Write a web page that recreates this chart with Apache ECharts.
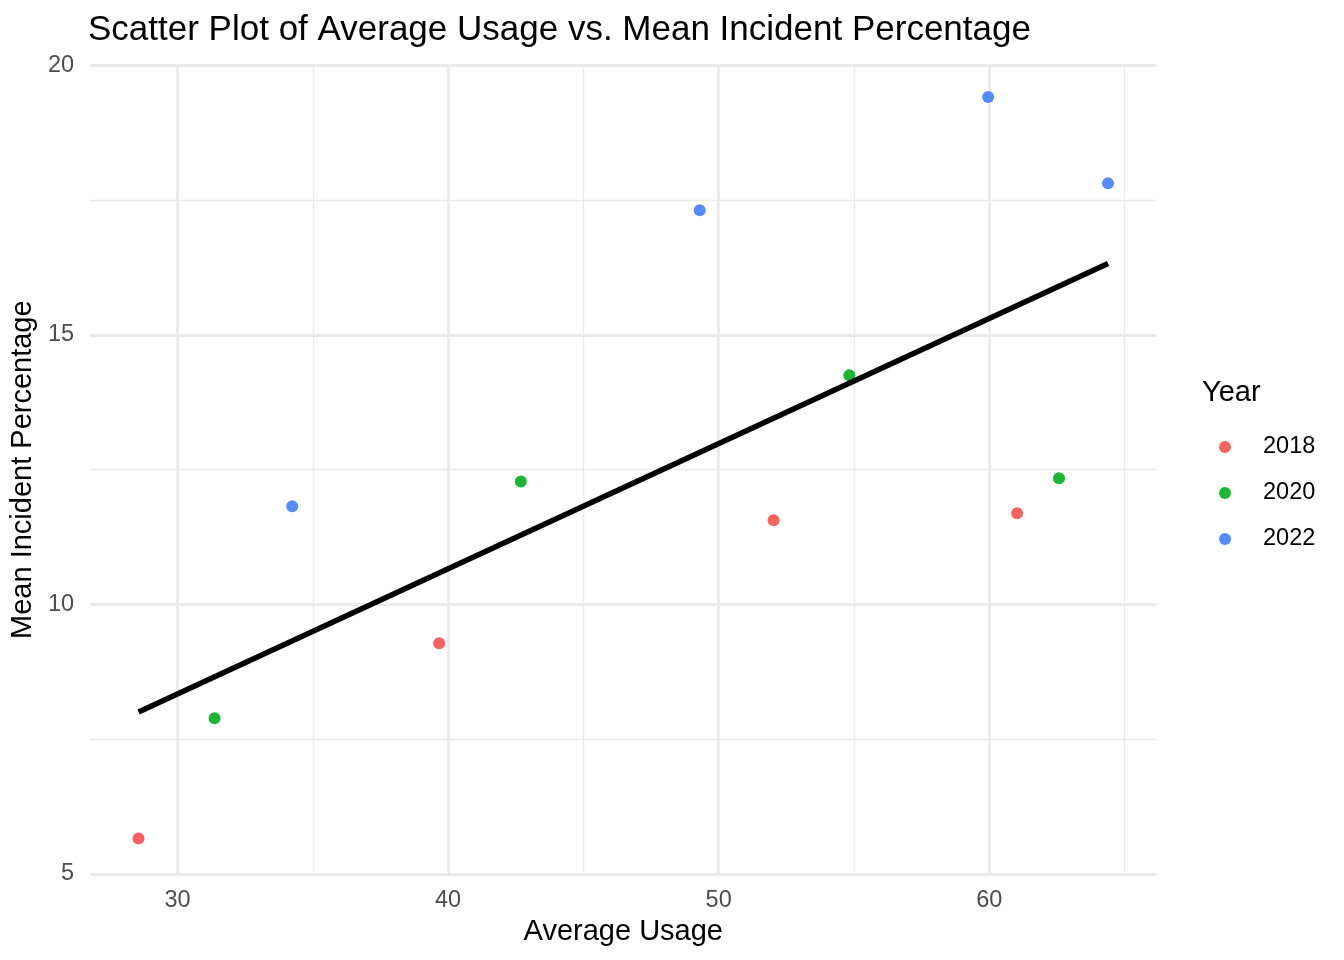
<!DOCTYPE html>
<html><head><meta charset="utf-8">
<script src="https://cdn.jsdelivr.net/npm/echarts@6/dist/echarts.min.js"></script>
<style>html,body{margin:0;padding:0;background:#fff}#chart{width:1344px;height:960px}</style>
</head><body><div id="chart"></div>
<script>
const years = ['2018', '2020', '2022'];
const yearColors = ['#F5645E', '#1CB536', '#568BFF'];
const usage2018 = [28.56, 39.67, 52.03, 61.03];
const incident2018 = [5.66, 9.28, 11.56, 11.69];
const usage2020 = [31.37, 42.69, 54.83, 62.58];
const incident2020 = [7.89, 12.28, 14.25, 12.34];
const usage2022 = [34.24, 49.30, 59.96, 64.39];
const incident2022 = [11.82, 17.31, 19.41, 17.81];
const xMajorTicks = [30, 40, 50, 60];
const xMinorTicks = [35, 45, 55, 65];
const yTicks = [5, 10, 15, 20];

const usageByYear = [usage2018, usage2020, usage2022];
const incidentByYear = [incident2018, incident2020, incident2022];

const allX = [].concat(usage2018, usage2020, usage2022);
const allY = [].concat(incident2018, incident2020, incident2022);
const n = allX.length;
const mx = allX.reduce((a, b) => a + b, 0) / n;
const my = allY.reduce((a, b) => a + b, 0) / n;
let sxy = 0, sxx = 0;
for (let i = 0; i < n; i++) { sxy += (allX[i] - mx) * (allY[i] - my); sxx += (allX[i] - mx) ** 2; }
const slope = sxy / sxx;
const intercept = my - slope * mx;
const xmin = Math.min(...allX), xmax = Math.max(...allX);
const fitLine = [[xmin, intercept + slope * xmin], [xmax, intercept + slope * xmax]];
const xPad = (xmax - xmin) * 0.05;

const FONT = "'Liberation Sans', Arial, Helvetica, sans-serif";
const chart = echarts.init(document.getElementById('chart'), null, { renderer: 'canvas' });

const pointSeries = years.map((yr, k) => ({
  name: yr,
  type: 'scatter',
  z: 3,
  symbol: 'circle',
  symbolSize: 12,
  itemStyle: { color: yearColors[k], opacity: 1 },
  emphasis: { disabled: true },
  data: usageByYear[k].map((x, i) => [x, incidentByYear[k][i]])
}));

function gridMarkSeries(name, ticks, width) {
  return {
    name: name, type: 'line', data: [], z: 1, silent: true,
    markLine: { z: 1, silent: true, animation: false, symbol: ['none', 'none'], label: { show: false },
      lineStyle: { color: '#ebebeb', width: width, type: 'solid', opacity: 1 },
      emphasis: { disabled: true },
      data: ticks.map(v => ({ xAxis: v })) }
  };
}

chart.setOption({
  animation: false,
  backgroundColor: '#ffffff',
  textStyle: { fontFamily: FONT },
  title: [
    { text: 'Scatter Plot of Average Usage vs. Mean Incident Percentage', left: 88, top: 13, padding: 0,
      textStyle: { fontFamily: FONT, fontSize: 35, fontWeight: 'normal', color: '#000' } },
    { text: 'Year', left: 1202, top: 378, padding: 0,
      textStyle: { fontFamily: FONT, fontSize: 29, fontWeight: 'normal', color: '#000' } }
  ],
  legend: {
    data: years,
    orient: 'vertical',
    left: 1219,
    top: 435,
    padding: 0,
    icon: 'circle',
    itemWidth: 66,
    itemHeight: 12,
    itemGap: 22,
    selectedMode: false,
    textStyle: { fontFamily: FONT, fontSize: 23.5, color: '#000', lineHeight: 24 }
  },
  grid: { left: 88.5, right: 187.5, top: 65.3, bottom: 86, containLabel: false },
  xAxis: {
    type: 'value',
    min: xmin - xPad,
    max: xmax + xPad,
    name: 'Average Usage',
    nameLocation: 'middle',
    nameGap: 41,
    nameTextStyle: { fontFamily: FONT, fontSize: 29, color: '#000' },
    axisLine: { show: false },
    axisTick: { show: false },
    splitLine: { show: false },
    axisLabel: { show: true, showMinLabel: false, showMaxLabel: false, margin: 15,
      fontFamily: FONT, fontSize: 23.5, color: '#4d4d4d',
      formatter: v => (xMajorTicks.indexOf(v) >= 0 ? String(v) : '') }
  },
  yAxis: {
    type: 'value',
    min: yTicks[0],
    max: yTicks[yTicks.length - 1],
    interval: 5,
    name: 'Mean Incident Percentage',
    nameLocation: 'middle',
    nameGap: 43,
    nameRotate: 90,
    nameTextStyle: { fontFamily: FONT, fontSize: 29, color: '#000' },
    axisLine: { show: false },
    axisTick: { show: false },
    minorTick: { show: false, splitNumber: 2 },
    splitLine: { show: true, lineStyle: { color: '#ebebeb', width: 2.8 } },
    minorSplitLine: { show: true, lineStyle: { color: '#ebebeb', width: 1.4 } },
    axisLabel: { margin: 16, fontFamily: FONT, fontSize: 23.5, color: '#4d4d4d' }
  },
  series: [
    gridMarkSeries('gridMajor', xMajorTicks, 2.8),
    gridMarkSeries('gridMinor', xMinorTicks, 1.4),
    ...pointSeries,
    {
      name: 'fit', type: 'line', z: 4, silent: true, symbol: 'none',
      lineStyle: { color: '#000', width: 5.5, cap: 'butt' },
      emphasis: { disabled: true },
      data: fitLine
    }
  ]
});
</script>
</body></html>
